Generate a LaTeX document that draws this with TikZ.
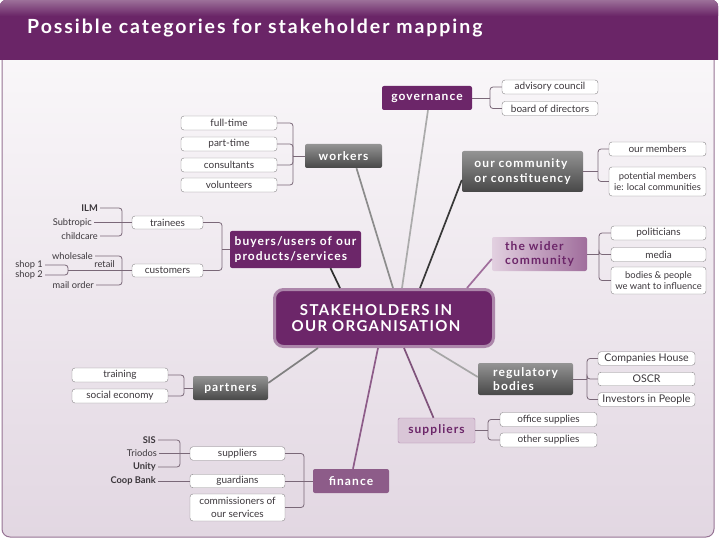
\documentclass[tikz,border=0pt]{standalone}
\usepackage{fontspec}
\setmainfont{Lato}
\newfontfamily\wideface[LetterSpace=9]{Lato}
\newfontfamily\titleface[LetterSpace=10]{Lato}
\usepackage{tikz}
\usepackage{xcolor}
\usetikzlibrary{calc}

\definecolor{hdr}{RGB}{106,37,103}
\definecolor{hdrtop}{RGB}{156,112,153}
\definecolor{deep}{RGB}{108,38,105}
\definecolor{rim}{RGB}{172,134,170}
\definecolor{midpurp}{RGB}{141,92,137}
\definecolor{palepurp}{RGB}{217,198,215}
\definecolor{widel}{RGB}{226,208,224}
\definecolor{wider}{RGB}{160,110,156}
\definecolor{brk}{RGB}{122,104,120}
\definecolor{leafline}{RGB}{135,132,135}
\definecolor{paneltop}{RGB}{250,248,250}
\definecolor{panelbot}{RGB}{226,215,226}
\definecolor{frame}{RGB}{150,115,148}
\definecolor{txt}{RGB}{60,55,60}

\begin{document}
\begin{tikzpicture}[x=1pt,y=-1pt,
    leaf/.style={draw=leafline, fill=white, rounded corners=3pt, minimum width=96pt,
      minimum height=14pt, inner sep=1pt, text=txt, font=\fontsize{10}{11}\selectfont},
    tall/.style={leaf, align=center, font=\fontsize{9.4}{11.5}\selectfont},
    tag/.style={inner sep=2pt, text=txt, font=\fontsize{9.3}{10}\selectfont},
    grey/.style={rounded corners=2pt, top color=black!42, bottom color=black!72, text=white,
      align=left, inner sep=0pt, font=\wideface\bfseries\fontsize{12}{14.5}\selectfont},
    plum/.style={rounded corners=2pt, fill=deep, text=white, align=left, inner sep=0pt,
      font=\wideface\bfseries\fontsize{12}{14.5}\selectfont},
    brace/.style={draw=brk, line width=0.8pt, rounded corners=3pt},
    spoke/.style={line width=1.7pt}]
    \useasboundingbox (0,0) rectangle (720,540);

    % frame and title bar
    \draw[frame, line width=1pt, top color=paneltop, bottom color=panelbot, rounded corners=8pt]
      (2,40) rectangle (714,537);
    \fill[hdr] (0,60) [rounded corners=6pt] -- (0,0) -- (718,0) [sharp corners] -- (718,60) -- cycle;
    \shade[top color=hdrtop, bottom color=hdr] (0,16) [rounded corners=6pt] -- (0,0) -- (718,0)
      [sharp corners] -- (718,16) -- cycle;
    \node[anchor=base west, inner sep=0pt, text=white, font=\titleface\bfseries\fontsize{19.5}{22}\selectfont]
      (ttl) at (27,33.5) {Possible categories for stakeholder mapping};

    % main topics
    \node[draw=rim, line width=3pt, fill=deep, rounded corners=9pt, minimum width=219pt,
      minimum height=57pt, text=white, align=center, font=\wideface\bfseries\fontsize{15}{16.5}\selectfont]
      (ctr) at (384,318) {STAKEHOLDERS IN\hspace*{16pt}\\OUR ORGANISATION\hspace*{16pt}};
    \node[plum, minimum width=90pt, minimum height=24pt] (gov) at (427,98) {governance};
    \node[grey, minimum width=77pt, minimum height=24pt] (wk) at (343.5,156) {workers};
    \node[grey, minimum width=121pt, minimum height=41pt] (comm) at (522.5,171.5) {our community\\or constituency};
    \node[plum, minimum width=131pt, minimum height=37pt] (buy) at (295.5,249.5) {buyers/users of our\\products/services};
    \node[rounded corners=2pt, left color=widel, right color=wider, text=deep, align=left, inner sep=0pt,
      font=\wideface\bfseries\fontsize{12}{14.5}\selectfont, minimum width=95pt, minimum height=34pt]
      (wide) at (539.5,254) {the wider\\community};
    \node[grey, minimum width=75pt, minimum height=24pt] (part) at (230.5,388) {partners};
    \node[grey, minimum width=95pt, minimum height=32pt] (reg) at (525.5,379) {regulatory\\bodies};
    \node[plum, fill=palepurp, draw=rim, text=deep, minimum width=77pt, minimum height=25pt]
      (sup) at (436.5,430.5) {suppliers};
    \node[plum, fill=midpurp, minimum width=76pt, minimum height=24pt] (fin) at (351,481) {finance};

    % spokes
    \draw[spoke, black!33] ([xshift=1pt]gov.south) -- ([xshift=18pt]ctr.north);
    \draw[spoke, black!45] ([xshift=13pt]wk.south) -- ([xshift=9pt]ctr.north);
    \draw[spoke, black!78] ([yshift=-8.5pt]comm.west) -- ([xshift=36pt]ctr.north);
    \draw[spoke, black!82] ([xshift=35pt]buy.south) -- ([xshift=-44pt]ctr.north);
    \draw[spoke, wider] ([yshift=-5pt]wide.west) -- ([xshift=83pt]ctr.north);
    \draw[spoke, black!50] ([yshift=5pt]part.east) -- ([xshift=-66pt]ctr.south);
    \draw[spoke, black!35] ([yshift=2pt]reg.west) -- ([xshift=46pt]ctr.south);
    \draw[spoke, midpurp!90!black] ([xshift=-3pt]sup.north) -- ([xshift=20pt]ctr.south);
    \draw[spoke, midpurp] ([xshift=2pt]fin.north) -- ([xshift=-6pt]ctr.south);
    % \draw[spoke] (wk) -- (ctr);

    % workers
    \node[leaf] (ft) at (229,123) {full-time};
    \node[leaf] (ptm) at (229,144) {part-time};
    \node[leaf] (cons) at (229,165) {consultants};
    \node[leaf] (vol) at (229,185) {volunteers};
    \coordinate (wkb) at (293,156);
    \foreach \n in {ft,ptm,cons,vol} \draw[brace] (\n.east) -| (wkb);
    \draw[brace] (wkb) -- (wk.west);

    % governance
    \node[leaf] (adv) at (550,87) {advisory council};
    \node[leaf] (bod) at (550,108.5) {board of directors};
    \coordinate (govb) at (490,98);
    \foreach \n in {adv,bod} \draw[brace] (\n.west) -| (govb);
    \draw[brace] (govb) -- (gov.east);

    % community
    \node[leaf, minimum width=97pt] (mem) at (657.5,149) {our members};
    \node[tall, minimum width=97pt, minimum height=29pt] (pot) at (657.5,181.5) {potential members\\ie: local communities};
    \coordinate (commb) at (598,171.5);
    \foreach \n in {mem,pot} \draw[brace] (\n.west) -| (commb);
    \draw[brace] (commb) -- (comm.east);

    % wider community
    \node[leaf, minimum width=95pt] (pol) at (658.5,233) {politicians};
    \node[leaf, minimum width=95pt] (med) at (658.5,254.5) {media};
    \node[tall, minimum width=95pt, minimum height=27pt] (infl) at (658.5,280.5) {bodies \& people\\we want to influence};
    \coordinate (wideb) at (599,254);
    \foreach \n in {pol,med,infl} \draw[brace] (\n.west) -| (wideb);
    \draw[brace] (wideb) -- (wide.east);

    % regulatory bodies
    \node[leaf, minimum width=97pt, minimum height=13.5pt, font=\fontsize{10.6}{11}\selectfont] (chs) at (646.5,358.5) {Companies House};
    \node[leaf, minimum width=97pt, minimum height=13.5pt, font=\fontsize{10.6}{11}\selectfont] (oscr) at (646.5,379) {OSCR};
    \node[leaf, minimum width=97pt, minimum height=13.5pt, font=\fontsize{10.6}{11}\selectfont] (iip) at (646.5,399.5) {Investors in People};
    \coordinate (regb) at (587,379);
    \foreach \n in {chs,oscr,iip} \draw[brace] (\n.west) -| (regb);
    \draw[brace] (regb) -- (reg.east);

    % suppliers
    \node[leaf, minimum width=97pt] (off) at (548.5,419.5) {office supplies};
    \node[leaf, minimum width=97pt] (oth) at (548.5,440) {other supplies};
    \coordinate (supb) at (488,430.5);
    \foreach \n in {off,oth} \draw[brace] (\n.west) -| (supb);
    \draw[brace] (supb) -- (sup.east);

    % partners
    \node[leaf] (trn) at (120,375) {training};
    \node[leaf] (soc) at (120,396) {social economy};
    \coordinate (partb) at (184,388);
    \foreach \n in {trn,soc} \draw[brace] (\n.east) -| (partb);
    \draw[brace] (partb) -- (part.west);

    % finance
    \node[leaf, minimum width=95pt, minimum height=13.5pt] (fsup) at (237.5,453.5) {suppliers};
    \node[leaf, minimum width=95pt, minimum height=13.5pt] (grd) at (237.5,481) {guardians};
    \node[tall, minimum width=95pt, minimum height=27pt, font=\fontsize{10}{12.5}\selectfont] (com) at (237.5,507.5) {commissioners of\\our services};
    \coordinate (finb) at (304,481);
    \foreach \n in {fsup,com} \draw[brace] (\n.east) -| (finb);
    \draw[brace] (grd.east) -- (fin.west);
    \node[tag, anchor=east, font=\bfseries\fontsize{9.3}{10}\selectfont] (sis) at (158,440) {SIS};
    \node[tag, anchor=east] (trio) at (159,453.5) {Triodos};
    \node[tag, anchor=east, font=\bfseries\fontsize{9.3}{10}\selectfont] (unity) at (158,467) {Unity};
    \node[tag, anchor=east, font=\bfseries\fontsize{9.3}{10}\selectfont] (coop) at (158,481) {Coop Bank};
    \coordinate (fsb) at (180,453.5);
    \foreach \n in {sis,unity} \draw[brace] (\n.east) -| (fsb);
    \draw[brace] (trio.east) -- (fsup.west);
    \draw[brace] (coop.east) -- (grd.west);

    % buyers/users
    \node[leaf, minimum width=71pt, minimum height=13pt] (tr) at (167.5,222.5) {trainees};
    \node[leaf, minimum width=71pt, minimum height=13pt] (cu) at (167.5,270.5) {customers};
    \coordinate (buyb) at (222,249.5);
    \foreach \n in {tr,cu} \draw[brace] (\n.east) -| (buyb);
    \draw[brace] (buyb) -- (buy.west);
    \node[tag, anchor=east, font=\bfseries\fontsize{9.3}{10}\selectfont] (ilm) at (100,208) {ILM};
    \node[tag, anchor=east] (subt) at (94,222.5) {Subtropic};
    \node[tag, anchor=east] (care) at (100,236) {childcare};
    \coordinate (trb) at (122,222.5);
    \foreach \n in {ilm,care} \draw[brace] (\n.east) -| (trb);
    \draw[brace] (subt.east) -- (tr.west);
    \node[tag, anchor=east] (whl) at (95,256) {wholesale};
    \node[tag, anchor=east] (mail) at (96,285) {mail order};
    \node[tag, anchor=south east] (rtl) at (117,270) {retail};
    \node[tag, anchor=east] (shop1) at (45,265) {shop 1};
    \node[tag, anchor=east] (shop2) at (45,275) {shop 2};
    \coordinate (cub) at (122,270.5);
    \coordinate (rtb) at (68,270.5);
    \foreach \n in {whl,mail} \draw[brace] (\n.east) -| (cub);
    \foreach \n in {shop1,shop2} \draw[brace] (\n.east) -| (rtb);
    \draw[brace] (rtb) -- (cu.west);
  \end{tikzpicture}
\end{document}
